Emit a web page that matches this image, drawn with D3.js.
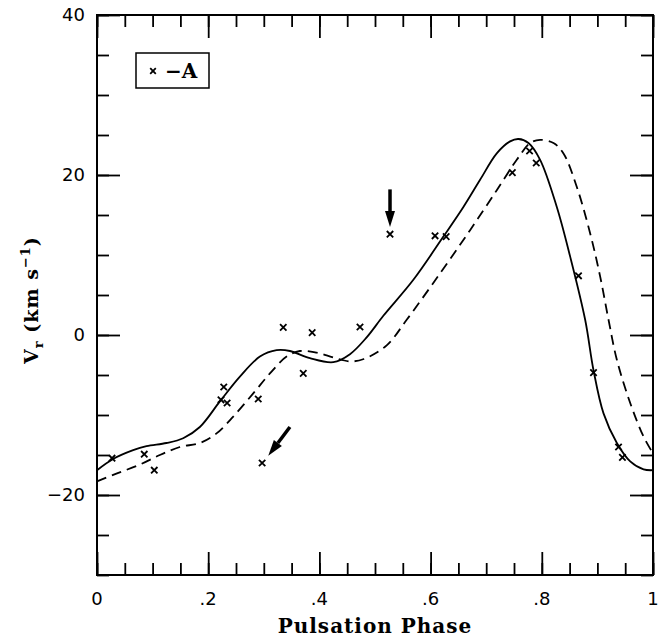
<!DOCTYPE html>
<html>
<head>
<meta charset="utf-8">
<script src="https://cdn.jsdelivr.net/npm/d3@7"></script>
<style>
  body { margin: 0; background: #fff; }
  svg { display: block; }
</style>
</head>
<body>
<div id="chart"></div>
<script>
const svgWidth = 663;
const svgHeight = 639;
const margin = { top: 15, right: 10, bottom: 64, left: 97 };

// observed velocities (crosses)
const obsPhase = [0.027, 0.085, 0.103, 0.228, 0.223, 0.234, 0.290, 0.297, 0.335, 0.371, 0.387,
    0.473, 0.527, 0.608, 0.628, 0.747, 0.778, 0.790, 0.866, 0.893, 0.938, 0.945];
const obsVr = [-15.4, -14.9, -16.9, -6.5, -8.1, -8.5, -8.0, -16.0, 0.95, -4.8, 0.3,
    1.0, 12.6, 12.4, 12.3, 20.3, 23.0, 21.5, 7.4, -4.7, -14.0, -15.3];

// solid model curve
const solidPhase = [0, 0.029, 0.065, 0.089, 0.125, 0.155, 0.185, 0.221, 0.257, 0.293, 0.323, 0.347,
    0.383, 0.425, 0.455, 0.485, 0.515, 0.569, 0.623, 0.659, 0.689, 0.719, 0.743, 0.758, 0.776,
    0.797, 0.827, 0.851, 0.878, 0.893, 0.911, 0.935, 0.959, 0.983, 1.0];
const solidVr = [-16.9, -15.5, -14.4, -13.9, -13.5, -12.9, -11.5, -8.3, -5.2, -2.7, -1.9, -2.0,
    -2.9, -3.4, -2.4, -0.3, 2.4, 6.9, 12.3, 16.0, 19.4, 22.7, 24.2, 24.5, 24.0,
    21.9, 16.0, 9.8, 1.9, -4.4, -9.8, -13.5, -15.8, -16.8, -16.9];

// dashed model curve
const dashedPhase = [0, 0.036, 0.077, 0.113, 0.149, 0.185, 0.215, 0.245, 0.281, 0.311, 0.341, 0.365,
    0.395, 0.425, 0.455, 0.48, 0.521, 0.557, 0.617, 0.671, 0.719, 0.755, 0.779, 0.797, 0.821,
    0.839, 0.863, 0.887, 0.905, 0.920, 0.935, 0.959, 0.983, 1.0];
const dashedVr = [-18.3, -17.3, -16.2, -15.0, -14.0, -13.5, -12.3, -10.2, -7.3, -4.8, -2.7, -2.0,
    -2.2, -2.8, -3.3, -3.0, -1.3, 1.9, 7.7, 13.1, 18.1, 21.9, 24.0, 24.4, 24.0,
    22.7, 18.5, 12.7, 7.3, 1.9, -3.1, -8.5, -12.7, -14.8];

// arrows: [fromPhase, fromVr, toPhase, toVr]
const arrows = [
    [0.527, 18.2, 0.527, 13.5],
    [0.347, -11.5, 0.308, -15.1]
];

const xMajor = [0, 0.2, 0.4, 0.6, 0.8, 1];
const xMinor = d3.range(0, 1.0001, 0.05);
const yMajor = [40, 20, 0, -20];
const yMinor = d3.range(-30, 40.001, 5);

document.addEventListener('DOMContentLoaded', function () {
    const svg = d3.select('#chart')
        .append('svg')
        .attr('width', svgWidth)
        .attr('height', svgHeight);

    const xScale = d3.scaleLinear()
        .domain([0, 1])
        .range([margin.left, svgWidth - margin.right]);

    const yScale = d3.scaleLinear()
        .domain([-30, 40])
        .range([svgHeight - margin.bottom, margin.top]);

    const x0 = xScale(0), x1 = xScale(1), y0 = yScale(-30), y1 = yScale(40);

    // ticks, all pointing inward
    const tickAxis = (axis, transform) => {
        svg.append("g")
            .attr("transform", transform)
            .call(axis)
            .call(s => s.select(".domain").remove())
            .call(s => s.selectAll("line").attr("stroke", "#000").attr("stroke-width", 1.8));
    };
    tickAxis(d3.axisBottom(xScale).tickValues(xMinor).tickSize(-12).tickFormat(""), `translate(0,${y0})`);
    tickAxis(d3.axisBottom(xScale).tickValues(xMajor).tickSize(-23).tickFormat(""), `translate(0,${y0})`);
    tickAxis(d3.axisTop(xScale).tickValues(xMinor).tickSize(-12).tickFormat(""), `translate(0,${y1})`);
    tickAxis(d3.axisTop(xScale).tickValues(xMajor).tickSize(-23).tickFormat(""), `translate(0,${y1})`);
    tickAxis(d3.axisLeft(yScale).tickValues(yMinor).tickSize(-12).tickFormat(""), `translate(${x0},0)`);
    tickAxis(d3.axisLeft(yScale).tickValues(yMajor).tickSize(-23).tickFormat(""), `translate(${x0},0)`);
    tickAxis(d3.axisRight(yScale).tickValues(yMinor).tickSize(-12).tickFormat(""), `translate(${x1},0)`);
    tickAxis(d3.axisRight(yScale).tickValues(yMajor).tickSize(-23).tickFormat(""), `translate(${x1},0)`);

    // frame
    svg.append("rect")
        .attr("x", x0).attr("y", y1)
        .attr("width", x1 - x0).attr("height", y0 - y1)
        .attr("fill", "none")
        .attr("stroke", "#000")
        .attr("stroke-width", 2);

    // tick labels
    const fmtX = d => d === 0 ? "0" : d === 1 ? "1" : d3.format(".1f")(d).replace("0.", ".");
    svg.selectAll(".xlab")
        .data(xMajor)
        .enter()
        .append("text")
        .attr("x", d => xScale(d))
        .attr("y", y0 + 30)
        .attr("text-anchor", "middle")
        .style("font-family", "DejaVu Sans")
        .style("font-size", "18px")
        .text(fmtX);

    svg.selectAll(".ylab")
        .data(yMajor)
        .enter()
        .append("text")
        .attr("x", x0 - 12)
        .attr("y", d => yScale(d) + 6)
        .attr("text-anchor", "end")
        .style("font-family", "DejaVu Sans")
        .style("font-size", "18px")
        .text(d => d < 0 ? "\u2212" + Math.abs(d) : d);

    // axis titles
    svg.append("text")
        .attr("x", (x0 + x1) / 2)
        .attr("y", svgHeight - 6)
        .attr("text-anchor", "middle")
        .style("font-family", "DejaVu Serif")
        .style("font-weight", "bold")
        .style("font-size", "20px")
        .style("letter-spacing", "1px")
        .text("Pulsation Phase");

    const yt = svg.append("text")
        .attr("transform", `translate(38, ${(y0 + y1) / 2 + 5}) rotate(-90)`)
        .attr("text-anchor", "middle")
        .style("font-family", "DejaVu Serif")
        .style("font-weight", "bold")
        .style("font-size", "19px")
        .style("letter-spacing", "1px");
    yt.append("tspan").text("V");
    yt.append("tspan").attr("dy", 5).style("font-size", "13px").text("r");
    yt.append("tspan").attr("dy", -5).text(" (km s");
    yt.append("tspan").attr("dy", -8).style("font-size", "13px").text("\u22121");
    yt.append("tspan").attr("dy", 8).text(")");

    // model curves
    const line = d3.line()
        .x(d => xScale(d[0]))
        .y(d => yScale(d[1]))
        .curve(d3.curveCatmullRom.alpha(0.5));

    svg.append("path")
        .datum(solidPhase.map((p, i) => [p, solidVr[i]]))
        .attr("d", line)
        .attr("fill", "none")
        .attr("stroke", "#000")
        .attr("stroke-width", 1.8);

    svg.append("path")
        .datum(dashedPhase.map((p, i) => [p, dashedVr[i]]))
        .attr("d", line)
        .attr("fill", "none")
        .attr("stroke", "#000")
        .attr("stroke-width", 1.8)
        .style("stroke-dasharray", "10,6");

    // observations
    const cross = (sel, s) => sel.append("path")
        .attr("d", `M${-s},${-s}L${s},${s}M${-s},${s}L${s},${-s}`)
        .attr("stroke", "#000")
        .attr("stroke-width", 1.8)
        .attr("fill", "none");

    svg.selectAll(".obs")
        .data(obsPhase.map((p, i) => [p, obsVr[i]]))
        .enter()
        .append("g")
        .attr("transform", d => `translate(${xScale(d[0])},${yScale(d[1])})`)
        .call(g => cross(g, 3.2));

    // arrows
    arrows.forEach(a => {
        const ax = xScale(a[0]), ay = yScale(a[1]);
        const bx = xScale(a[2]), by = yScale(a[3]);
        const len = Math.hypot(bx - ax, by - ay);
        const ux = (bx - ax) / len, uy = (by - ay) / len;
        const head = 16, hw = 5;
        const hx = bx - ux * head, hy = by - uy * head;
        svg.append("line")
            .attr("x1", ax).attr("y1", ay)
            .attr("x2", hx).attr("y2", hy)
            .attr("stroke", "#000")
            .attr("stroke-width", 3.5);
        svg.append("path")
            .attr("d", `M${bx},${by}L${hx - uy * hw},${hy + ux * hw}L${hx + uy * hw},${hy - ux * hw}Z`)
            .attr("fill", "#000");
    });

    // legend
    const lg = svg.append("g").attr("transform", "translate(136,53)");
    lg.append("rect")
        .attr("width", 73).attr("height", 35)
        .attr("fill", "none")
        .attr("stroke", "#000")
        .attr("stroke-width", 1.5);
    lg.append("g")
        .attr("transform", "translate(17,18)")
        .call(g => cross(g, 2.8));
    lg.append("text")
        .attr("x", 29).attr("y", 25)
        .style("font-family", "DejaVu Serif")
        .style("font-weight", "bold")
        .style("font-size", "20px")
        .text("\u2212A");
});
</script>
</body>
</html>
